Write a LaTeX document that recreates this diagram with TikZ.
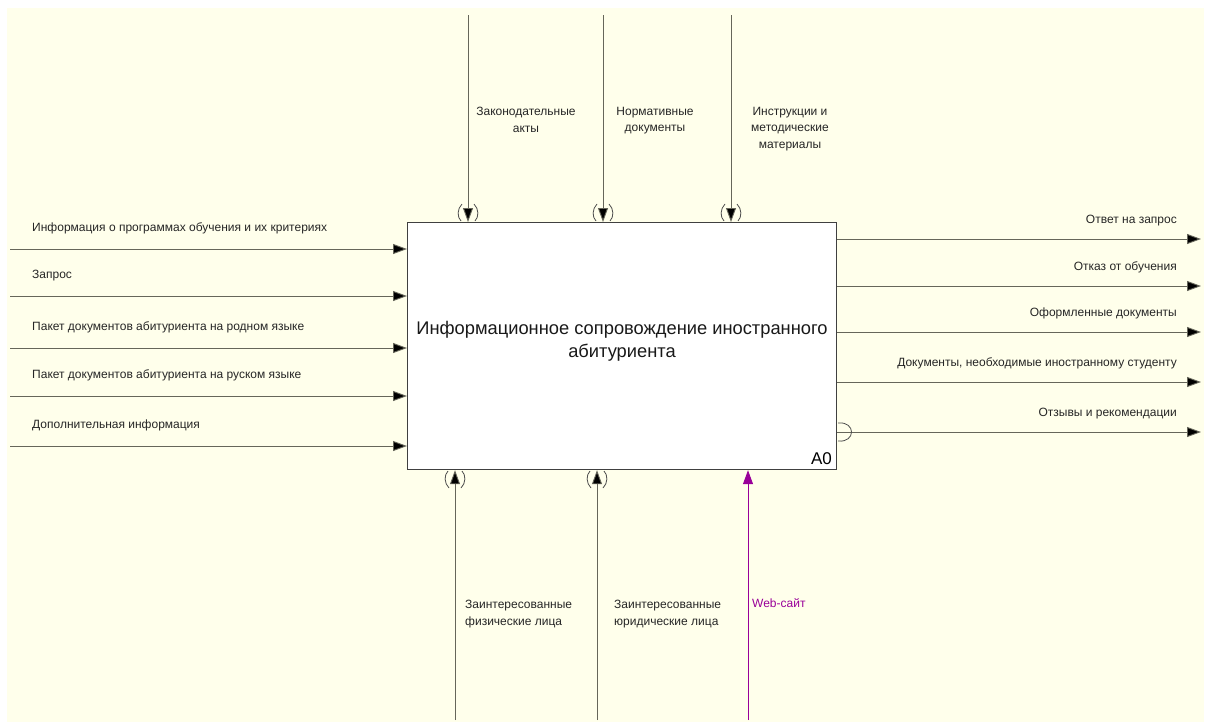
\documentclass[tikz,border=0pt]{standalone}
\usepackage{fontspec}
\setmainfont{Liberation Sans}
\usetikzlibrary{arrows.meta}
\definecolor{bg}{HTML}{FFFFEB}
\definecolor{ln}{HTML}{66665A}
\definecolor{web}{HTML}{990099}
\tikzset{
  arr/.style={draw=ln, line width=0.9pt, -{Triangle[length=14pt,width=10pt,fill=black]}},
  webarr/.style={draw=web, line width=0.9pt, -{Triangle[length=14pt,width=10pt,fill=web]}},
  lbl/.style={font=\fontsize{12}{16.5}\selectfont, inner sep=0pt, text=black!85},
  tun/.style={draw=black!70, line width=0.8pt},
}
\begin{document}
\begin{tikzpicture}[x=1pt,y=-1pt]
\useasboundingbox (0,0) rectangle (1207,726);
\fill[bg] (7,8) rectangle (1204,722);
\node[draw=black!75, line width=1.2pt, fill=white, minimum width=429pt, minimum height=247pt, anchor=north west, inner sep=0pt] (box) at (407,222) {};
\node[font=\fontsize{18.3}{23}\selectfont, align=center, text=black!90] (title) at (622,341) {Информационное сопровождение иностранного\\абитуриента};
\node[font=\fontsize{17}{18}\selectfont, anchor=south east, inner sep=0pt] (a0) at (832,465) {A0};
% inputs
\foreach \y/\t [count=\i] in {249/Информация о программах обучения и их критериях, 296/Запрос, 348/Пакет документов абитуриента на родном языке, 396/Пакет документов абитуриента на руском языке, 446/Дополнительная информация}{
  \coordinate (in\i) at (10,\y);
  \draw[arr] (in\i) -- (box.west |- in\i);
  \node[lbl, anchor=base west] (inl\i) at (32,\y-18) {\t};
}
% outputs
\foreach \y/\t [count=\i] in {239/Ответ на запрос, 286/Отказ от обучения, 332/Оформленные документы, 382/{Документы, необходимые иностранному студенту}, 432/Отзывы и рекомендации}{
  \coordinate (out\i) at (1201,\y);
  \draw[arr] (box.east |- out\i) -- (out\i);
  \node[lbl, anchor=base east] (outl\i) at (1177,\y-16) {\t};
}
% tunnel at output 5
\draw[tun] (838,423) .. controls (856,421) and (856,443) .. (838,441);
% controls
\foreach \x [count=\i] in {468,603,731}{
  \coordinate (ct\i) at (\x,15);
  \draw[arr] (ct\i) -- (ct\i |- box.north);
  \draw[tun] (\x-6,204) .. controls (\x-11,209) and (\x-11,217) .. (\x-7,221);
  \draw[tun] (\x+6,204) .. controls (\x+11,209) and (\x+11,217) .. (\x+7,221);
}
\node[lbl, align=center, anchor=north] (ctl1) at (526,107) {Законодательные\\акты};
\node[lbl, align=center, anchor=north] (ctl2) at (655,107) {Нормативные\\документы};
\node[lbl, align=center, anchor=north] (ctl3) at (790,107) {Инструкции и\\методические\\материалы};
% mechanisms
\foreach \x [count=\i] in {455,597}{
  \coordinate (m\i) at (\x,720);
  \draw[arr] (m\i) -- (m\i |- box.south);
  \draw[tun] (\x-6,488) .. controls (\x-11,483) and (\x-11,475) .. (\x-7,471);
  \draw[tun] (\x+6,488) .. controls (\x+11,483) and (\x+11,475) .. (\x+7,471);
}
\coordinate (m3) at (748,720);
\draw[webarr] (m3) -- (m3 |- box.south);
\node[lbl, align=left, anchor=north west] (ml1) at (465,600) {Заинтересованные\\физические лица};
\node[lbl, align=left, anchor=north west] (ml2) at (614,600) {Заинтересованные\\юридические лица};
\node[lbl, anchor=north west, text=web] (ml3) at (752,598) {Web-сайт};
\end{tikzpicture}
\end{document}
